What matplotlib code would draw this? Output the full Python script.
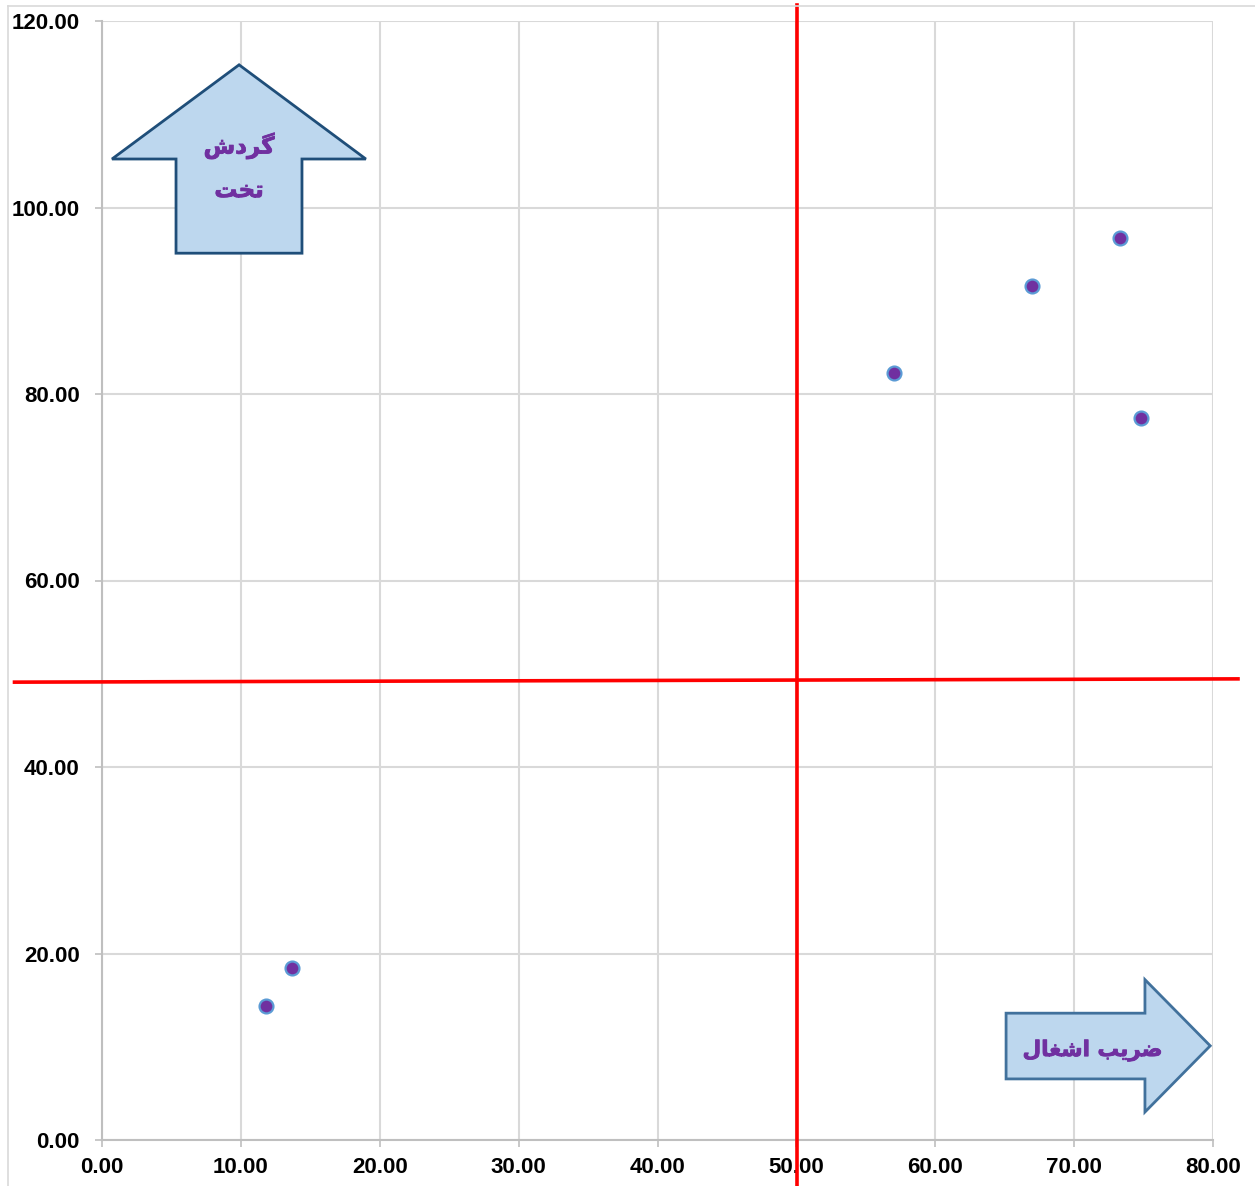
import matplotlib.pyplot as plt
import matplotlib.patheffects as pe
from matplotlib.patches import Polygon
from matplotlib.lines import Line2D

# data
occupancy = [11.8, 13.7, 57.0, 67.0, 73.3, 74.8]   # x: ضریب اشغال
turnover = [14.4, 18.4, 82.2, 91.6, 96.7, 77.4]    # y: گردش تخت
x_ticks = [0, 10, 20, 30, 40, 50, 60, 70, 80]
y_ticks = [0, 20, 40, 60, 80, 100, 120]
x_split = 50.05
y_split = (49.1, 49.45)   # left / right end of the horizontal red line

# Persian labels, pre-shaped (presentation forms, visual order) since matplotlib has no shaping
label_turnover_1 = "\uFEB5\uFEA9\uFEAE\uFB94"          # گردش
label_turnover_2 = "\uFE96\uFEA8\uFE97"                # تخت
label_occupancy = "\uFEDD\uFE8E\uFED0\uFEB7\uFE8D \uFE90\uFBFE\uFEAE\uFEBF"  # ضریب اشغال

W, H = 1255, 1186
fig = plt.figure(figsize=(W / 100, H / 100), dpi=100)
ax = fig.add_axes([102 / W, (H - 1140) / H, (1213 - 102) / W, (1140 - 21) / H])

ax.set_xlim(0, 80)
ax.set_ylim(0, 120)
ax.set_xticks(x_ticks)
ax.set_yticks(y_ticks)
ax.set_xticklabels([f"{v:.2f}" for v in x_ticks])
ax.set_yticklabels([f"{v:.2f}" for v in y_ticks])
for lab in ax.get_xticklabels() + ax.get_yticklabels():
    lab.set_fontfamily("Liberation Sans")
    lab.set_fontweight("bold")
    lab.set_fontsize(16)
ax.tick_params(axis="x", length=5, width=1.2, color="#bfbfbf", pad=7)
ax.tick_params(axis="y", length=5, width=1.2, color="#bfbfbf", pad=11)
ax.grid(True, color="#d9d9d9", linewidth=1.5)
ax.set_axisbelow(True)
for side in ["top", "right"]:
    ax.spines[side].set_visible(False)
for side in ["left", "bottom"]:
    ax.spines[side].set_color("#bfbfbf")
    ax.spines[side].set_linewidth(1.5)

# red quadrant lines (extend beyond the plot area)
ax.plot([x_split, x_split], [121.7, -5.0], color="#ff0000", linewidth=2.6, clip_on=False, zorder=3)
ax.plot([-6.3, 81.8], list(y_split), color="#ff0000", linewidth=2.6, clip_on=False, zorder=3)

ax.scatter(occupancy, turnover, s=100, color="#7030a0", edgecolors="#5b9bd5", linewidths=1.6, zorder=4)

bold_fx = [pe.withStroke(linewidth=0.6, foreground="#7030a0")]

# up arrow
up = Polygon([(9.87, 115.3), (19.0, 105.2), (14.4, 105.2), (14.4, 95.1), (5.33, 95.1),
              (5.33, 105.2), (0.72, 105.2)], closed=True, facecolor="#bdd7ee",
             edgecolor="#1f4e79", linewidth=2, zorder=5, clip_on=False)
ax.add_patch(up)
ax.text(9.87, 106.6, label_turnover_1, ha="center", va="center", fontsize=16.5,
        fontweight="bold", color="#7030a0", family=["DejaVu Sans"], zorder=6,
        path_effects=bold_fx)
ax.text(9.87, 101.8, label_turnover_2, ha="center", va="center", fontsize=16.5,
        fontweight="bold", color="#7030a0", family=["DejaVu Sans"], zorder=6,
        path_effects=bold_fx)

# right arrow
right = Polygon([(65.1, 13.6), (75.1, 13.6), (75.1, 17.2), (79.8, 10.1), (75.1, 3.0),
                 (75.1, 6.55), (65.1, 6.55)], closed=True, facecolor="#bdd7ee",
                edgecolor="#41719c", linewidth=2, zorder=5, clip_on=False)
ax.add_patch(right)
ax.text(71.3, 9.6, label_occupancy, ha="center", va="center", fontsize=15.5,
        fontweight="bold", color="#7030a0", family=["DejaVu Sans"], zorder=6,
        path_effects=bold_fx)

# chart area border (top and left edges visible)
fig.add_artist(Line2D([8 / W, 8 / W], [0, 1 - 6 / H], color="#d9d9d9", linewidth=1.2))
fig.add_artist(Line2D([8 / W, 1], [1 - 6 / H, 1 - 6 / H], color="#d9d9d9", linewidth=1.2))

fig.savefig("out.png", dpi=100)
